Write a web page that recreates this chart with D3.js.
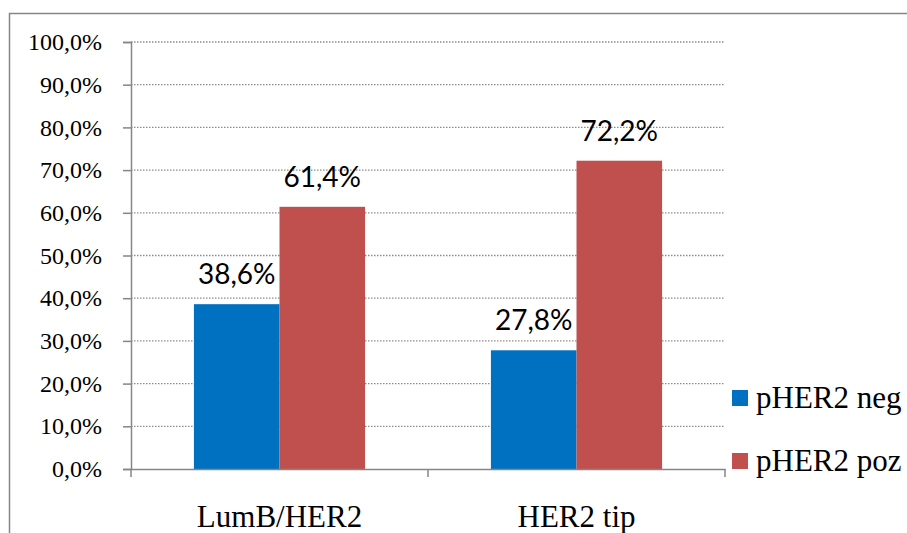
<!DOCTYPE html>
<html>
<head>
<meta charset="utf-8">
<script src="https://cdnjs.cloudflare.com/ajax/libs/d3/7.8.5/d3.min.js"></script>
<style>
  body { margin: 0; background: #fff; }
  svg { display: block; }
</style>
</head>
<body>
<div id="chart"></div>
<script>
// Data
const categories = ["LumB/HER2", "HER2 tip"];
const seriesNames = ["pHER2 neg", "pHER2 poz"];
const negValues = [38.6, 27.8];
const pozValues = [61.4, 72.2];
const yTicks = [0, 10, 20, 30, 40, 50, 60, 70, 80, 90, 100];
const colors = ["#0070C0", "#C0504D"];

const serif = "'Liberation Serif', 'Times New Roman', serif";
const width = 907, height = 533;
const margin = { top: 42, left: 131, right: 182, bottom: 64 };
const plotW = width - margin.left - margin.right,
      plotH = height - margin.top - margin.bottom;

const svg = d3.select("#chart")
  .append("svg")
  .attr("width", width)
  .attr("height", height);

// Outer chart border
svg.append("rect")
  .attr("x", 9.5).attr("y", 13.5)
  .attr("width", width + 10).attr("height", height + 10)
  .attr("fill", "none")
  .attr("stroke", "#868686")
  .attr("stroke-width", 1.5);

const g = svg.append("g")
  .attr("transform", `translate(${margin.left},${margin.top})`);

const x0 = d3.scaleBand()
  .domain(categories)
  .range([0, plotW])
  .paddingInner(0)
  .paddingOuter(0);

const x1 = d3.scaleBand()
  .domain(seriesNames)
  .range([0, x0.bandwidth()])
  .paddingOuter(0.735)
  .paddingInner(0);

const y = d3.scaleLinear()
  .domain([0, 100])
  .range([plotH, 0]);

const fmt = v => v.toFixed(1).replace(".", ",") + "%";

// Gridlines
g.selectAll(".grid")
  .data(yTicks.filter(t => t > 0))
  .join("line")
  .attr("x1", 0).attr("x2", plotW)
  .attr("y1", d => y(d)).attr("y2", d => y(d))
  .attr("stroke", "#8c8c8c")
  .attr("stroke-width", 1.3)
  .attr("stroke-dasharray", "1.5,1.5");

// Y axis
const yAxis = g.append("g")
  .call(d3.axisLeft(y).tickValues(yTicks).tickSize(8).tickFormat(fmt))
  .attr("font-family", serif)
  .attr("font-size", 24);
yAxis.select(".domain").attr("stroke", "#868686").attr("stroke-width", 1.5);
yAxis.selectAll(".tick line").attr("stroke", "#868686").attr("stroke-width", 1.5);
yAxis.selectAll(".tick text")
  .attr("x", -29)
  .attr("fill", "#000")
  .style("font-family", serif)
  .style("font-size", "24px");

// Bars
const rows = categories.map((c, i) => ({ cat: c, values: [negValues[i], pozValues[i]] }));

const groups = g.selectAll(".group")
  .data(rows)
  .join("g")
  .attr("transform", d => `translate(${x0(d.cat)},0)`);

groups.selectAll("rect")
  .data(d => d.values.map((v, j) => ({ name: seriesNames[j], value: v, j })))
  .join("rect")
  .attr("x", d => x1(d.name))
  .attr("y", d => y(d.value))
  .attr("width", x1.bandwidth())
  .attr("height", d => y(0) - y(d.value))
  .attr("fill", d => colors[d.j]);

// Data labels
groups.selectAll(".lbl")
  .data(d => d.values.map((v, j) => ({ name: seriesNames[j], value: v })))
  .join("text")
  .attr("x", d => x1(d.name) + x1.bandwidth() / 2)
  .attr("y", d => y(d.value) - 20)
  .attr("text-anchor", "middle")
  .style("font-family", "Lato, 'Open Sans', sans-serif")
  .style("font-size", "28px")
  .text(d => fmt(d.value));

// X axis
const xAxis = g.append("g")
  .attr("transform", `translate(0,${plotH})`)
  .call(d3.axisBottom(x0).tickSize(0).tickSizeOuter(0))
  .attr("font-family", serif);
xAxis.select(".domain").attr("stroke", "#868686").attr("stroke-width", 1.5);
xAxis.selectAll(".tick text")
  .attr("y", 58)
  .attr("dy", 0)
  .attr("fill", "#000")
  .style("font-family", serif)
  .style("font-size", "31px");

// Category separator ticks
g.selectAll(".sep")
  .data([0, 1, 2])
  .join("line")
  .attr("x1", d => d * x0.step()).attr("x2", d => d * x0.step())
  .attr("y1", plotH).attr("y2", plotH + 8)
  .attr("stroke", "#868686")
  .attr("stroke-width", 1.5);

// Legend
const legend = svg.append("g")
  .attr("transform", "translate(732,390)");
const items = legend.selectAll(".item")
  .data(seriesNames)
  .join("g")
  .attr("transform", (d, i) => `translate(0,${i * 63})`);
items.append("rect")
  .attr("width", 16).attr("height", 16)
  .attr("fill", (d, i) => colors[i]);
items.append("text")
  .attr("x", 24).attr("y", 18)
  .style("font-family", serif)
  .style("font-size", "31px")
  .text(d => d);
</script>
</body>
</html>
